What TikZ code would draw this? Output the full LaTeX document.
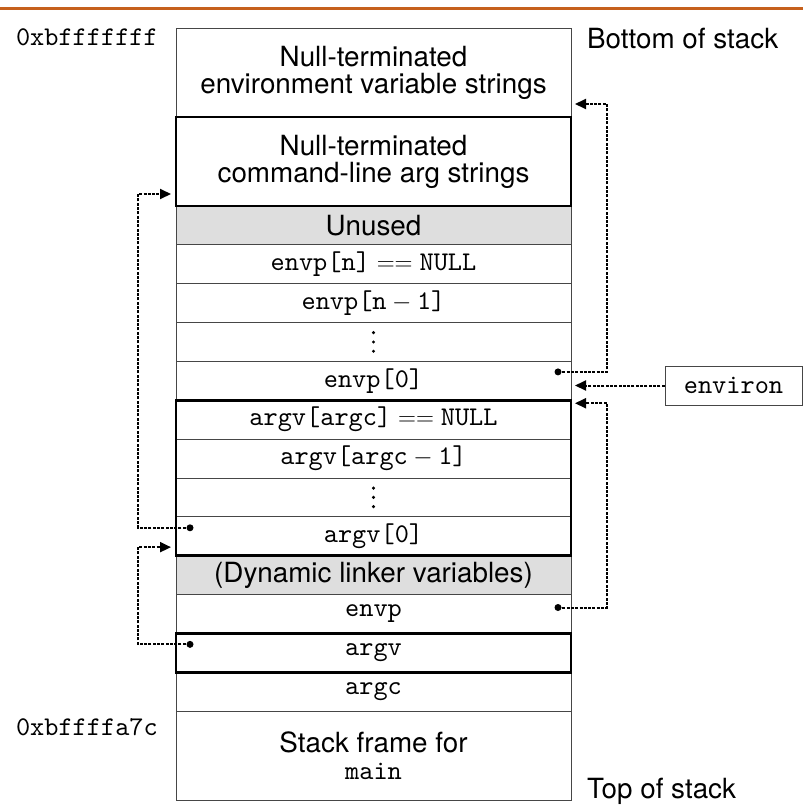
\documentclass[tikz,border=0pt]{standalone}
\usepackage{fontspec}
\setmainfont{TeX Gyre Heros}
\setmonofont{lmmono10-regular.otf}
\usetikzlibrary{arrows.meta,positioning}

\definecolor{rulecolor}{RGB}{198,96,28}
\definecolor{cellgrey}{RGB}{222,222,222}
\definecolor{cellline}{RGB}{70,70,70}

\newcommand{\sfsize}{\fontsize{27.8}{27}\selectfont}
\newcommand{\ttsize}{\ttfamily\fontsize{27}{27}\selectfont}

\begin{document}
\begin{tikzpicture}[x=1pt,y=-1pt,
  cell/.style={draw=cellline, line width=0.9pt, minimum width=395pt,
    minimum height=38.85pt, inner sep=0pt, outer sep=0pt, font=\ttsize},
  bigcell/.style={cell, minimum height=89pt, align=center, font=\sfsize},
  greycell/.style={cell, fill=cellgrey, font=\sfsize},
  thickbox/.style={draw=black, line width=2.6pt},
  ptr/.style={draw=black, line width=2pt, dash pattern=on 3pt off 1.3pt,
    -{Triangle[length=11pt,width=10pt]}},
  dot/.style={fill=black},
  elide/.style={fill=black},
  lbltt/.style={inner sep=0pt, font=\ttsize},
  lblsf/.style={inner sep=0pt, font=\sfsize},
]
\useasboundingbox (0,0) rectangle (803,806);

% heading rule
\draw[rulecolor, line width=3pt] (0,8.5) -- (803,8.5);

% the stack, from its bottom (high addresses) down to its top
\node[bigcell, anchor=north] (env) at (373.5,28)
  {Null-terminated\\environment variable strings};
\node[bigcell, below=0pt of env] (cmd)
  {Null-terminated\\command-line arg strings};
\node[greycell, below=0pt of cmd] (unused) {Unused};
\node[cell, below=0pt of unused] (envpn) {envp[n]${}=={}$NULL};
\node[cell, below=0pt of envpn] (envpnm) {envp[n${}-{}$1]};
\node[cell, below=0pt of envpnm] (envpdots) {};
\node[cell, below=0pt of envpdots] (envpzero) {envp[0]};
\node[cell, below=0pt of envpzero] (argvnull) {argv[argc]${}=={}$NULL};
\node[cell, below=0pt of argvnull] (argvm) {argv[argc${}-{}$1]};
\node[cell, below=0pt of argvm] (argvdots) {};
\node[cell, below=0pt of argvdots] (argvzero) {argv[0]};
\node[greycell, below=0pt of argvzero] (dyn) {(Dynamic linker variables)};
\node[cell, below=0pt of dyn] (envp) {envp};
\node[cell, below=0pt of envp] (argvp) {argv};
\node[cell, below=0pt of argvp] (argc) {argc};
\node[bigcell, below=0pt of argc] (frame) {Stack frame for\\{\ttsize main}};

% vertical ellipses in the elided slots
\foreach \n in {envpdots,argvdots}
  \foreach \dy in {-9.3,0,9.3}
    \fill[elide] ([yshift=\dy pt]\n.center) circle (1.7pt);

% heavy outlines: argument strings, argv array, argv pointer
\draw[thickbox] (cmd.north west) rectangle (cmd.south east);
\draw[thickbox] (argvnull.north west) rectangle (argvzero.south east);
\draw[thickbox] (argvp.north west) rectangle (argvp.south east);

% side labels
\node[lbltt, anchor=base east] (addrhi) at (158,45) {0xbfffffff};
\node[lbltt, anchor=base east] (addrlo) at (158,735) {0xbffffa7c};
\node[lblsf, anchor=base west] (bottom) at (587,48) {Bottom of stack};
\node[lblsf, anchor=base west] (top) at (587,798) {Top of stack};

% global environ variable
\node[draw=cellline, line width=0.9pt, minimum width=137pt, minimum height=39pt,
  inner sep=0pt, font=\ttsize] (environ) at (733.5,385.5) {environ};

% pointer origins
\coordinate (penv0) at ([xshift=-13pt,yshift=-10.5pt]envpzero.north east);
\coordinate (penvp) at ([xshift=-13pt,yshift=-13pt]envp.north east);
\coordinate (parg0) at ([xshift=14pt,yshift=-11pt]argvzero.north west);
\coordinate (pargv) at ([xshift=14pt,yshift=-11pt]argvp.north west);

% pointers
\draw[ptr] (penv0) -- ++(49,0) |- ([xshift=4pt,yshift=13pt]env.south east);
\draw[ptr] (environ.west) -- ([xshift=4pt]envpzero.east |- environ.west);
\draw[ptr] (penvp) -- ++(49,0) |- ([xshift=4pt,yshift=-3pt]argvnull.north east);
\draw[ptr] (parg0) -- ++(-52,0) |- ([xshift=-5pt,yshift=12pt]cmd.south west);
\draw[ptr] (pargv) -- ++(-52,0) |- ([xshift=-5pt,yshift=8.5pt]argvzero.south west);

\foreach \p in {penv0,penvp,parg0,pargv}
  \fill[dot] (\p) circle (3.5pt);
\end{tikzpicture}
\end{document}
